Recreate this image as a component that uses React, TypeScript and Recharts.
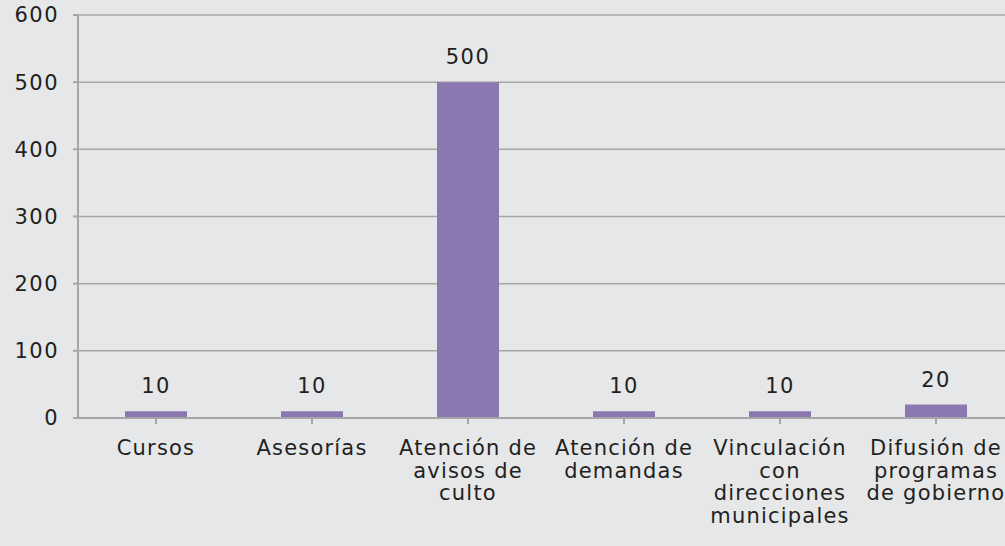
import React from "react";
import { BarChart, Bar, XAxis, YAxis, CartesianGrid, LabelList } from "recharts";

const categories = [
  "Cursos",
  "Asesorías",
  "Atención de\navisos de\nculto",
  "Atención de\ndemandas",
  "Vinculación\ncon\ndirecciones\nmunicipales",
  "Difusión de\nprogramas\nde gobierno",
];
const values = [10, 10, 500, 10, 10, 20];
const yTicks = [0, 100, 200, 300, 400, 500, 600];

const data = categories.map((name, i) => ({ name, value: values[i] }));

const FONT = "'DejaVu Sans', sans-serif";
const INK = "#231f20";
const GRID = "#a6a6a6";

const CategoryTick = (props: any) => {
  const { x, y, payload } = props;
  const lines = String(payload.value).split("\n");
  return (
    <text x={x} y={y} textAnchor="middle" fill={INK} fontFamily={FONT} fontSize={21} letterSpacing={1.2}>
      {lines.map((l, i) => (
        <tspan key={i} x={x} dy={i === 0 ? 29 : 22.6}>
          {l}
        </tspan>
      ))}
    </text>
  );
};

export default function App() {
  return (
    <div style={{ position: "absolute", left: 0, top: 0, width: 1005, height: 546, overflow: "hidden", background: "#e6e7e9" }}>
      <BarChart width={1014} height={546} data={data} margin={{ top: 15, right: 0, left: 0, bottom: 0 }}>
        <CartesianGrid horizontal vertical={false} stroke={GRID} strokeWidth={1.5} />
        <XAxis
          dataKey="name"
          interval={0}
          tick={<CategoryTick />}
          tickLine={{ stroke: GRID, strokeWidth: 2 }}
          tickSize={6}
          axisLine={{ stroke: GRID, strokeWidth: 2 }}
          height={128}
        />
        <YAxis
          domain={[0, 600]}
          ticks={yTicks}
          width={78}
          tickSize={5}
          tickMargin={14}
          tickLine={{ stroke: GRID, strokeWidth: 2 }}
          axisLine={{ stroke: GRID, strokeWidth: 2 }}
          tick={{ fill: INK, fontFamily: FONT, fontSize: 21, letterSpacing: 1.5 }}
        />
        <Bar dataKey="value" fill="#8b78b0" barSize={62} isAnimationActive={false}>
          <LabelList dataKey="value" position="top" offset={18} fill={INK} fontFamily={FONT} fontSize={21} letterSpacing={1.5} />
        </Bar>
      </BarChart>
    </div>
  );
}
